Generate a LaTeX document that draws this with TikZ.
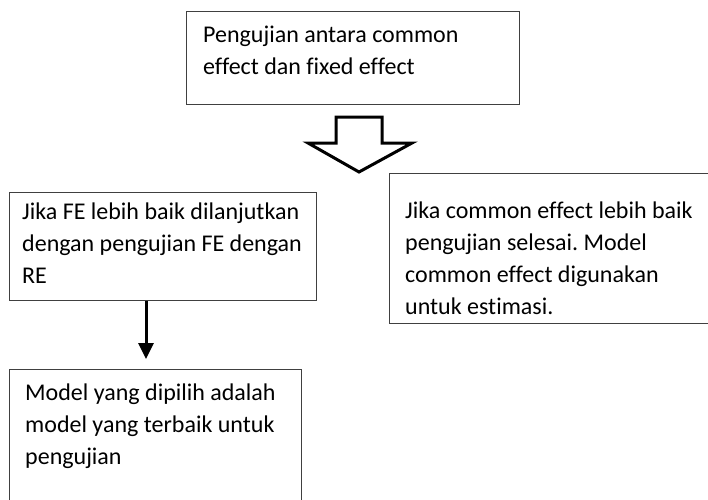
\documentclass[tikz,border=0pt]{standalone}
\usepackage{fontspec}
\setmainfont{Carlito}[Ligatures=NoCommon]
\usepackage{tikz}
\usetikzlibrary{positioning, arrows.meta}
\definecolor{boxline}{RGB}{64, 64, 64}
\frenchspacing
\tikzset{
    kotak/.style={draw=boxline, line width=1pt, rectangle, anchor=north west, inner sep=0pt},
    isi/.style={anchor=north west, inner sep=0pt, align=left, font=\fontsize{24}{32}\selectfont}
}

\begin{document}
\begin{tikzpicture}[x=1pt, y=-1pt]
    \useasboundingbox (0,0) rectangle (708,499);
    \clip (0,0) rectangle (708,499);
    % kotak
    \node[kotak, minimum width=333pt, minimum height=93pt] (uji) at (186,11) {};
    \node[kotak, minimum width=307pt, minimum height=108pt] (fe) at (9,192) {};
    \node[kotak, minimum width=340pt, minimum height=150pt] (common) at (389,173) {};
    \node[kotak, minimum width=292pt, minimum height=150pt] (pilih) at (9,369) {};
    % teks
    \node[isi] (tuji) at (203,19.6) {\strut Pengujian antara common\\effect dan fixed effect};
    \node[isi] (tfe) at (22,196.6) {\strut Jika FE lebih baik dilanjutkan\\dengan pengujian FE dengan\\RE};
    \node[isi] (tcommon) at (405,195.6) {\strut Jika common effect lebih baik\\pengujian selesai. Model\\common effect digunakan\\untuk estimasi.};
    \node[isi] (tpilih) at (25,377.6) {\strut Model yang dipilih adalah\\model yang terbaik untuk\\pengujian};
    % panah blok
    \draw[line width=3pt, miter limit=10] (336,117) -- (382,117) -- (382,143) -- (412,143)
        -- (359,172) -- (308,143) -- (336,143) -- cycle;
    % panah
    \coordinate (ujung) at (146,359);
    \draw[line width=3pt, -{Triangle[width=15pt, length=16pt]}] (fe.south -| ujung) -- (ujung);
\end{tikzpicture}
\end{document}
